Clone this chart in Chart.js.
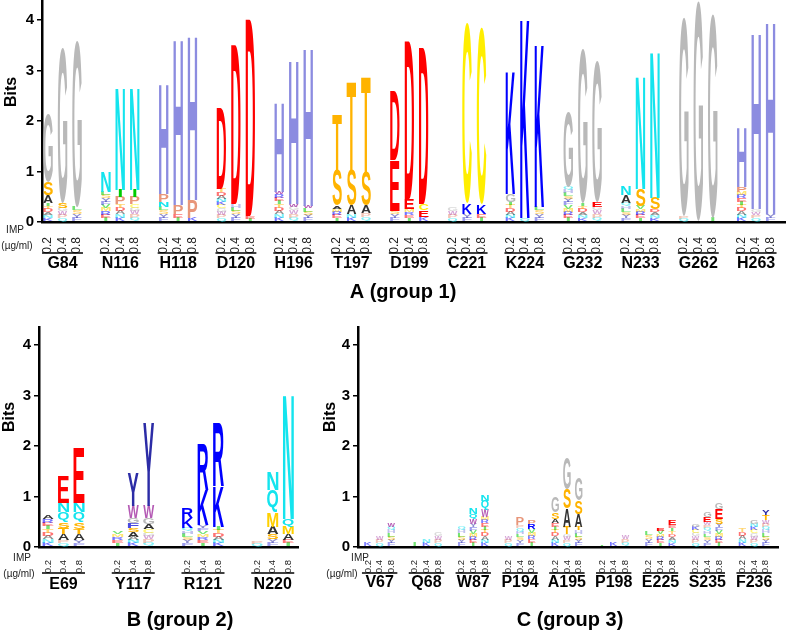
<!DOCTYPE html>
<html>
<head>
<meta charset="utf-8">
<script src="https://cdn.jsdelivr.net/npm/chart.js@4"></script>
<style>
  body { margin: 0; background: #fff; }
  #wrap { position: relative; width: 787px; height: 633px; }
  canvas { position: absolute; }
</style>
</head>
<body>
<div id="wrap">
  <canvas id="chartA" width="787" height="310" style="left:0;top:0"></canvas>
  <canvas id="chartB" width="310" height="323" style="left:0;top:310px"></canvas>
  <canvas id="chartC" width="477" height="323" style="left:310px;top:310px"></canvas>
</div>
<script>
const FONT = 'Arial, "Liberation Sans", Helvetica, sans-serif';

const concLabels = ["0.2", "0.4", "0.8"];
const bitTicks = [0, 1, 2, 3, 4];

// letters above the mixed background, bottom to top, one string per column
// bits: first value is the mixed background, then one height per letter
const sitesA = ["G84", "N116", "H118", "D120", "H196", "T197", "D199", "C221", "K224", "G232", "N233", "G262", "H263"];
const lettersA = [
  "ASG", "SG", "G",   "N", "PIN", "PIN",   "NPH", "PH", "PH",   "D", "D", "D",
  "WH", "WH", "WH",   "AST", "AST", "AST",   "ED", "ED", "ECD",   "", "KC", "KC",
  "GK", "K", "K",   "G", "G", "EG",   "AN", "SN", "SN",   "G", "G", "G",   "PH", "H", "H"
];
const bitsA = [
  [0.38, 0.16, 0.26, 1.36], [0.28, 0.1, 3.07], [0.3, 3.3],
  [0.6, 0.4], [0.35, 0.15, 0.14, 2.03], [0.35, 0.15, 0.14, 2.03],
  [0.3, 0.1, 0.15, 2.2], [0.15, 0.18, 3.31], [0.08, 0.35, 3.27],
  [0.65, 1.6], [0.35, 3.15], [0.12, 3.9],
  [0.55, 0.05, 1.77], [0.3, 0.05, 2.87], [0.27, 0.05, 3.13],
  [0.26, 0.06, 0.7, 1.12], [0.16, 0.17, 0.69, 1.78], [0.17, 0.16, 0.67, 1.9],
  [0.22, 1.0, 1.38], [0.25, 0.2, 3.13], [0.1, 0.13, 0.12, 3.1],
  [0.28], [0.16, 0.2, 3.59], [0.16, 0.18, 3.51],
  [0.4, 0.16, 2.44], [0.08, 3.97], [0.3, 3.25],
  [0.7, 1.48], [0.38, 3.05], [0.3, 0.1, 2.8],
  [0.38, 0.15, 0.17], [0.32, 0.34, 2.24], [0.25, 0.22, 2.91],
  [0.12, 3.94], [0.02, 4.36], [0.08, 4.04],
  [0.6, 0.1, 1.19], [0.25, 3.51], [0.15, 3.84]
];

const sitesB = ["E69", "Y117", "R121", "N220"];
const lettersB = [
  "A", "ATSQNE", "ATSQNE",   "", "ASFGWY", "AGWY",   "KR", "KR", "KR",   "", "SAMQN", "AMQN"
];
const bitsB = [
  [0.55, 0.07], [0.13, 0.13, 0.12, 0.11, 0.2, 0.18, 0.52], [0.13, 0.12, 0.1, 0.14, 0.2, 0.18, 1.1],
  [0.31], [0.2, 0.1, 0.08, 0.1, 0.1, 0.24, 0.66], [0.35, 0.1, 0.13, 0.24, 1.64],
  [0.38, 0.2, 0.19], [0.43, 0.7, 0.92], [0.4, 0.8, 1.23],
  [0.12], [0.15, 0.1, 0.15, 0.29, 0.44, 0.36], [0.14, 0.12, 0.14, 0.16, 2.47]
];

const sitesC = ["V67", "Q68", "W87", "P194", "A195", "P198", "E225", "S235", "F236"];
const lettersC = [
  "", "", "W",   "", "", "",   "", "WQN", "WQN",   "", "P", "RP",   "ASG", "TASG", "TASG",
  "", "", "",   "", "E", "E",   "G", "EG", "SEG",   "", "G", "TY"
];
const bitsC = [
  [0.08], [0.2], [0.4, 0.07],
  [0.1], [0.14], [0.28],
  [0.4], [0.45, 0.11, 0.1, 0.13], [0.6, 0.14, 0.18, 0.13],
  [0.21], [0.43, 0.16], [0.35, 0.1, 0.08],
  [0.47, 0.08, 0.14, 0.3], [0.26, 0.14, 0.36, 0.39, 0.63], [0.33, 0.07, 0.26, 0.26, 0.43],
  [0.05], [0.08], [0.23],
  [0.3], [0.32, 0.06], [0.44, 0.1],
  [0.4, 0.06], [0.5, 0.1, 0.11], [0.45, 0.1, 0.2, 0.14],
  [0.36], [0.46, 0.08], [0.53, 0.1, 0.09]
];

const aaColors = {
  G: "#b9b9b9", A: "#333333", S: "#ffb300", T: "#ffb300", N: "#14e4ee", Q: "#14e4ee",
  D: "#ff0000", E: "#ff0000", K: "#0000ff", R: "#0000ff", H: "#8c8ce0", Y: "#2c2ca6",
  W: "#b45ab4", C: "#ffee00", M: "#ffd000", P: "#e8967a", F: "#4a4ae0", I: "#00cc00",
  V: "#00cc00", L: "#00cc00"
};
const mixLetters = "KDEVSQGNTRFLPCAIMYHW";

const glyphCache = {};
function glyphBox(ctx, ch) {
  if (glyphCache[ch]) return glyphCache[ch];
  ctx.save();
  ctx.font = "bold 100px " + FONT;
  const m = ctx.measureText(ch);
  ctx.restore();
  glyphCache[ch] = { l: m.actualBoundingBoxLeft, r: m.actualBoundingBoxRight, a: m.actualBoundingBoxAscent, d: m.actualBoundingBoxDescent };
  return glyphCache[ch];
}

function drawGlyph(ctx, ch, x, y, w, h, color, alpha) {
  const g = glyphBox(ctx, ch);
  // the narrow I keeps its own slim shape
  if (ch === "I") { x += w * 0.33; w *= 0.34; }
  ctx.save();
  ctx.globalAlpha = alpha;
  ctx.translate(x, y);
  ctx.scale(w / (g.l + g.r), h / (g.a + g.d));
  ctx.font = "bold 100px " + FONT;
  ctx.fillStyle = color;
  ctx.textAlign = "left";
  ctx.textBaseline = "alphabetic";
  ctx.fillText(ch, g.l, g.a);
  ctx.restore();
}

// background of small mixed letters
function drawMix(ctx, col, x, y, w, h) {
  const n = Math.max(1, Math.round(h / 3.2));
  const ph = h / n;
  for (let q = 0; q < n; q++) {
    const ch = mixLetters[(col * 5 + q * 7) % mixLetters.length];
    drawGlyph(ctx, ch, x, y + h - (q + 1) * ph, w, ph, aaColors[ch], 0.55);
  }
}

function buildDatasets(letters, bits, step) {
  const nLayers = Math.max(...bits.map(b => b.length));
  const sets = [];
  for (let k = 0; k < nLayers; k++) {
    sets.push({ data: [], glyphs: [], cols: [], backgroundColor: "rgba(0,0,0,0)", borderWidth: 0, grouped: false });
  }
  bits.forEach((col, j) => {
    const x = Math.floor(j / 3) * step + (j % 3);
    let lo = 0;
    col.forEach((h, k) => {
      sets[k].data.push({ x: x, y: [lo, lo + h] });
      sets[k].glyphs.push(k === 0 ? "*" : letters[j][k - 1]);
      sets[k].cols.push(j);
      lo += h;
    });
  });
  return sets;
}

const logoPlugin = {
  id: "logo",
  afterDatasetsDraw(chart) {
    const ctx = chart.ctx;
    chart.data.datasets.forEach((ds, k) => {
      chart.getDatasetMeta(k).data.forEach((bar, i) => {
        const p = bar.getProps(["x", "y", "base", "width"], true);
        const top = Math.min(p.y, p.base), h = Math.abs(p.base - p.y);
        if (h < 0.4) return;
        const left = p.x - p.width / 2;
        if (ds.glyphs[i] === "*") drawMix(ctx, ds.cols[i], left, top, p.width, h);
        else drawGlyph(ctx, ds.glyphs[i], left, top, p.width, h, aaColors[ds.glyphs[i]], 1);
      });
    });
  }
};

function decorPlugin(cfg) {
  return {
    id: "decor",
    afterDraw(chart) {
      const ctx = chart.ctx;
      const xs = chart.scales.x;
      const zero = chart.scales.y.getPixelForValue(0);
      ctx.save();
      ctx.fillStyle = "#000";
      ctx.strokeStyle = "#000";
      ctx.textAlign = "center";
      ctx.textBaseline = "middle";

      ctx.save();
      ctx.translate(cfg.bitsX, zero - 130);
      ctx.rotate(-Math.PI / 2);
      ctx.font = "bold 16px " + FONT;
      ctx.fillText("Bits", 0, 0);
      ctx.restore();

      ctx.fillStyle = "#222";
      ctx.font = "10px " + FONT;
      ctx.fillText("IMP", cfg.impX, zero + cfg.impDy);
      ctx.fillText("(\u00b5g/ml)", cfg.unitX, zero + cfg.impDy + 16);

      ctx.fillStyle = "#000";
      ctx.lineWidth = 1.6;
      ctx.font = "bold 16px " + FONT;
      cfg.sites.forEach((s, g) => {
        const a = xs.getPixelForValue(g * cfg.step) - 6;
        const b = xs.getPixelForValue(g * cfg.step + 2) + 6;
        ctx.beginPath();
        ctx.moveTo(a, zero + cfg.lineDy);
        ctx.lineTo(b, zero + cfg.lineDy);
        ctx.stroke();
        ctx.fillText(s, (a + b) / 2, zero + cfg.labelDy);
      });

      ctx.font = "bold 20px " + FONT;
      ctx.fillText(cfg.title, cfg.titleX, zero + cfg.titleDy);
      ctx.restore();
    }
  };
}

function makePanel(id, cfg) {
  const colX = cfg.bits.map((b, j) => Math.floor(j / 3) * cfg.step + (j % 3));
  new Chart(document.getElementById(id), {
    type: "bar",
    data: { datasets: buildDatasets(cfg.letters, cfg.bits, cfg.step) },
    options: {
      responsive: false,
      animation: false,
      layout: { autoPadding: false, padding: { top: cfg.padTop, right: cfg.padRight, left: 0, bottom: 0 } },
      plugins: { legend: { display: false }, tooltip: { enabled: false } },
      datasets: { bar: { barThickness: cfg.barW } },
      scales: {
        x: {
          type: "linear",
          min: cfg.xMin,
          max: cfg.xMax,
          offset: false,
          grid: { display: false, offset: false },
          border: { color: "#000", width: 2.5 },
          afterBuildTicks: s => { s.ticks = colX.map(v => ({ value: v })); },
          afterFit: s => { s.height = cfg.xHeight; s.paddingLeft = 0; s.paddingRight = 0; },
          ticks: {
            autoSkip: false, minRotation: 90, maxRotation: 90, padding: cfg.tickPad,
            color: "#222", font: { size: cfg.tickSize, family: FONT },
            callback: (v, i) => concLabels[i % 3]
          }
        },
        y: {
          min: 0,
          max: cfg.yMax,
          afterBuildTicks: s => { s.ticks = bitTicks.map(v => ({ value: v })); },
          afterFit: s => { s.width = cfg.yWidth; s.paddingTop = 0; s.paddingBottom = 0; },
          grid: { drawOnChartArea: false, tickLength: 5, color: "#000", lineWidth: 1.5 },
          border: { color: "#000", width: 2.5 },
          ticks: { color: "#000", padding: 3, font: { size: 15, weight: "bold", family: FONT } }
        }
      }
    },
    plugins: [logoPlugin, decorPlugin(cfg)]
  });
}

makePanel("chartA", {
  sites: sitesA, letters: lettersA, bits: bitsA, step: 4,
  xMin: -0.42, xMax: 51.0, yMax: 4.38, padTop: 1, padRight: 2, yWidth: 42, xHeight: 88,
  barW: 9.5, tickSize: 12, tickPad: 7,
  bitsX: 12, impX: 15, unitX: 17, impDy: 8,
  lineDy: 31, labelDy: 42, title: "A (group 1)", titleX: 403, titleDy: 70
});

makePanel("chartB", {
  sites: sitesB, letters: lettersB, bits: bitsB, step: 4.5,
  xMin: -0.58, xMax: 16.13, yMax: 4.36, padTop: 17, padRight: 12, yWidth: 39, xHeight: 86,
  barW: 11, tickSize: 9.5, tickPad: 5,
  bitsX: 10, impX: 22, unitX: 19, impDy: 11,
  lineDy: 26, labelDy: 38, title: "B (group 2)", titleX: 180, titleDy: 73
});

makePanel("chartC", {
  sites: sitesC, letters: lettersC, bits: bitsC, step: 4,
  xMin: -0.85, xMax: 35.04, yMax: 4.36, padTop: 17, padRight: 9, yWidth: 48, xHeight: 86,
  barW: 7.5, tickSize: 9.5, tickPad: 5,
  bitsX: 21, impX: 50, unitX: 32, impDy: 11,
  lineDy: 26, labelDy: 36, title: "C (group 3)", titleX: 260, titleDy: 73
});
</script>
</body>
</html>
